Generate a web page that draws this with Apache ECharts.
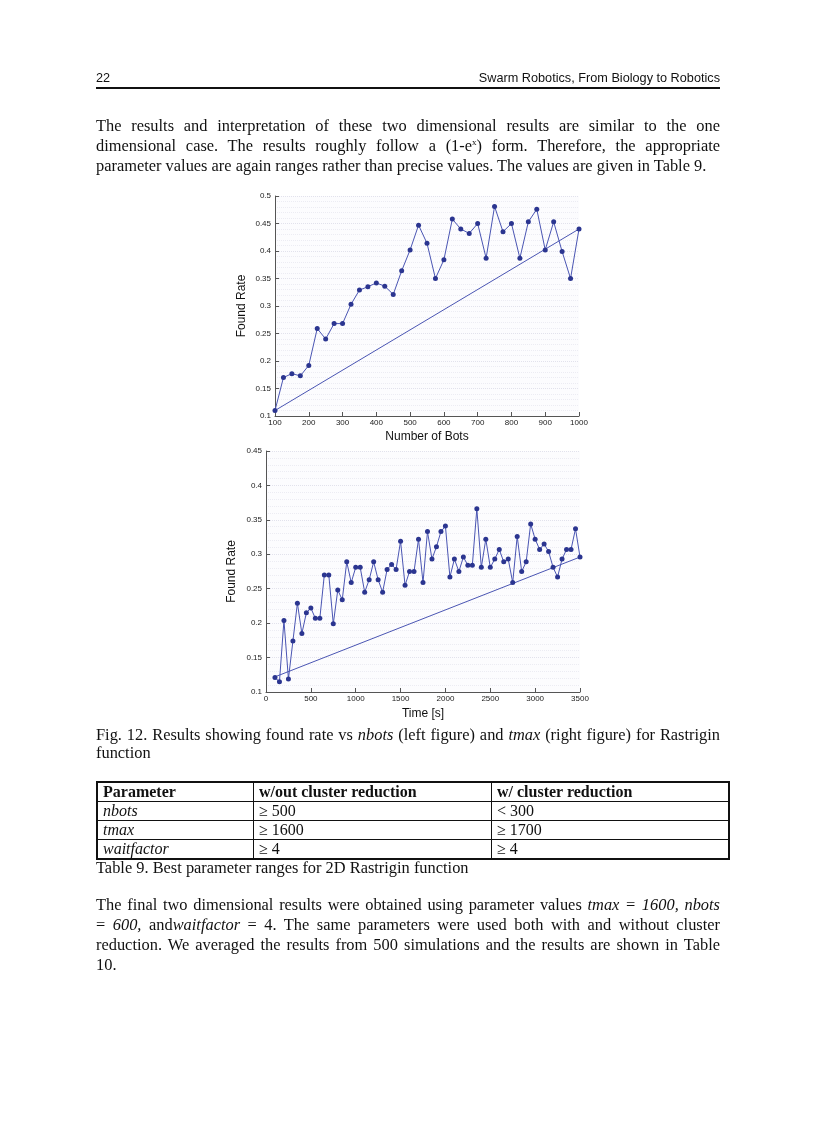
<!DOCTYPE html>
<html><head><meta charset="utf-8">
<script src="https://cdn.jsdelivr.net/npm/echarts@6/dist/echarts.min.js"></script>
<style>
html,body{margin:0;padding:0;background:#fff;}
#page{position:relative;width:816px;height:1123px;overflow:hidden;font-family:"Liberation Serif",serif;color:#111;}
#chart{position:absolute;left:0;top:0;width:816px;height:1123px;}
.t{position:absolute;font-size:16.4px;line-height:20px;white-space:nowrap;}
.j{text-align:justify;text-align-last:justify;white-space:normal;}
.hdr{position:absolute;font-family:"Liberation Sans",Arial,sans-serif;font-size:12.7px;}
#rule{position:absolute;left:96px;top:87px;width:624px;height:2px;background:#111;}
table{position:absolute;left:96px;top:781px;width:634px;border-collapse:collapse;font-size:16px;}
td{border:1px solid #111;padding:0 5px;height:18px;line-height:18px;}
tr:first-child td{font-weight:bold;}
table{border:2px solid #111;}
</style></head>
<body><div id="page">
<div id="chart"></div>
<div class="hdr" style="left:96px;top:71px;">22</div>
<div class="hdr" style="right:96px;top:71px;">Swarm Robotics, From Biology to Robotics</div>
<div id="rule"></div>
<div class="t j" style="left:96px;top:116px;width:624px;">The results and interpretation of these two dimensional results are similar to the one</div>
<div class="t j" style="left:96px;top:136px;width:624px;">dimensional case. The results roughly follow a (1-e<sup style="font-size:9px;line-height:0">x</sup>) form. Therefore, the appropriate</div>
<div class="t" style="left:96px;top:156px;">parameter values are again ranges rather than precise values. The values are given in Table 9.</div>

<div class="t j" style="left:96px;top:725px;width:624px;">Fig. 12. Results showing found rate vs <i>nbots</i> (left figure) and <i>tmax</i> (right figure) for Rastrigin</div>
<div class="t" style="left:96px;top:743px;">function</div>

<table>
<tr><td style="width:145px">Parameter</td><td style="width:227px">w/out cluster reduction</td><td>w/ cluster reduction</td></tr>
<tr><td><i>nbots</i></td><td>≥ 500</td><td>&lt; 300</td></tr>
<tr><td><i>tmax</i></td><td>≥ 1600</td><td>≥ 1700</td></tr>
<tr><td><i>waitfactor</i></td><td>≥ 4</td><td>≥ 4</td></tr>
</table>
<div class="t" style="left:96px;top:858px;">Table 9. Best parameter ranges for 2D Rastrigin function</div>

<div class="t j" style="left:96px;top:895px;width:624px;">The final two dimensional results were obtained using parameter values <i>tmax = 1600, nbots</i></div>
<div class="t j" style="left:96px;top:915px;width:624px;">= <i>600,</i> and<i>waitfactor</i> = 4. The same parameters were used both with and without cluster</div>
<div class="t j" style="left:96px;top:935px;width:624px;">reduction. We averaged the results from 500 simulations and the results are shown in Table</div>
<div class="t" style="left:96px;top:955px;">10.</div>
</div>
<script>
const nbots = [100,125,150,175,200,225,250,275,300,325,350,375,400,425,450,475,500,525,550,575,600,625,650,675,700,725,750,775,800,825,850,875,900,925,950,975,1000];
const rateBots = [0.110,0.170,0.177,0.173,0.192,0.259,0.240,0.268,0.268,0.303,0.329,0.335,0.342,0.336,0.321,0.364,0.402,0.447,0.414,0.350,0.384,0.458,0.440,0.432,0.450,0.387,0.481,0.435,0.450,0.387,0.453,0.476,0.402,0.453,0.399,0.350,0.440];
const lineBotsX = [100,1000];
const lineBotsY = [0.110,0.440];

const tmax = [100,150,200,250,300,350,400,450,500,550,600,650,700,750,800,850,900,950,1000,1050,1100,1150,1200,1250,1300,1350,1400,1450,1500,1550,1600,1650,1700,1750,1800,1850,1900,1950,2000,2050,2100,2150,2200,2250,2300,2350,2400,2450,2500,2550,2600,2650,2700,2750,2800,2850,2900,2950,3000,3050,3100,3150,3200,3250,3300,3350,3400,3450,3500];
const rateTime = [0.121,0.115,0.204,0.119,0.174,0.229,0.185,0.215,0.222,0.207,0.207,0.270,0.270,0.199,0.248,0.234,0.289,0.259,0.281,0.281,0.245,0.263,0.289,0.263,0.245,0.278,0.285,0.278,0.319,0.255,0.275,0.275,0.322,0.259,0.333,0.293,0.311,0.333,0.341,0.267,0.293,0.275,0.296,0.284,0.284,0.366,0.281,0.322,0.281,0.293,0.307,0.289,0.293,0.259,0.326,0.275,0.289,0.344,0.322,0.307,0.315,0.304,0.281,0.267,0.293,0.307,0.307,0.337,0.296];
const lineTimeX = [100,3500];
const lineTimeY = [0.122,0.296];

const zip = (a,b) => a.map((v,i)=>[v,b[i]]);
const axisCol = '#555';
const lbl = {fontSize:8, color:'#222', fontFamily:'Liberation Sans, Arial'};
const nameStyle = {fontSize:12, color:'#111', fontFamily:'Liberation Sans, Arial'};
function xAx(gi, min, max, interval, name, gap){
  return {gridIndex:gi, type:'value', min, max, interval, name, nameLocation:'middle', nameGap:gap, nameTextStyle:nameStyle,
    axisLine:{show:true, lineStyle:{color:axisCol, width:1}}, axisTick:{show:true, inside:true, length:4, lineStyle:{color:axisCol}},
    axisLabel:{...lbl, margin:3, formatter:v=>String(v)}, splitLine:{show:false}};
}
function yAx(gi, min, max, interval, gap){
  return {gridIndex:gi, type:'value', min, max, interval, name:'Found Rate', nameLocation:'middle', nameGap:gap, nameTextStyle:nameStyle,
    axisLine:{show:true, lineStyle:{color:axisCol, width:1}}, axisTick:{show:true, inside:true, length:4, lineStyle:{color:axisCol}},
    axisLabel:{...lbl, margin:4, formatter:v=>String(+v.toFixed(2))},
    splitLine:{show:true, lineStyle:{color:'#e2e2ec', type:'dotted', width:1}},
    minorTick:{show:false, splitNumber:5},
    minorSplitLine:{show:true, lineStyle:{color:'#ececf3', type:'dotted', width:1}}};
}
const markerCol = '#2b3590', lineCol = '#4a55b3';
const chart = echarts.init(document.getElementById('chart'), null, {renderer:'canvas'});
chart.setOption({
  animation:false,
  grid:[
    {left:275, top:196, width:304, height:220, show:true, backgroundColor:'#fcfcfe', borderWidth:0},
    {left:266, top:451, width:314, height:241, show:true, backgroundColor:'#fcfcfe', borderWidth:0}
  ],
  xAxis:[xAx(0,100,1000,100,'Number of Bots',15), xAx(1,0,3500,500,'Time [s]',16)],
  yAxis:[yAx(0,0.1,0.5,0.05,27), yAx(1,0.1,0.45,0.05,28)],
  series:[
    {type:'line', xAxisIndex:0, yAxisIndex:0, data:zip(nbots,rateBots), symbol:'circle', symbolSize:5,
      lineStyle:{color:lineCol,width:1}, itemStyle:{color:markerCol}},
    {type:'line', xAxisIndex:0, yAxisIndex:0, data:zip(lineBotsX,lineBotsY), symbol:'none', lineStyle:{color:lineCol,width:1}},
    {type:'line', xAxisIndex:1, yAxisIndex:1, data:zip(tmax,rateTime), symbol:'circle', symbolSize:5,
      lineStyle:{color:lineCol,width:1}, itemStyle:{color:markerCol}},
    {type:'line', xAxisIndex:1, yAxisIndex:1, data:zip(lineTimeX,lineTimeY), symbol:'none', lineStyle:{color:lineCol,width:1}}
  ]
});
</script>
</body></html>
